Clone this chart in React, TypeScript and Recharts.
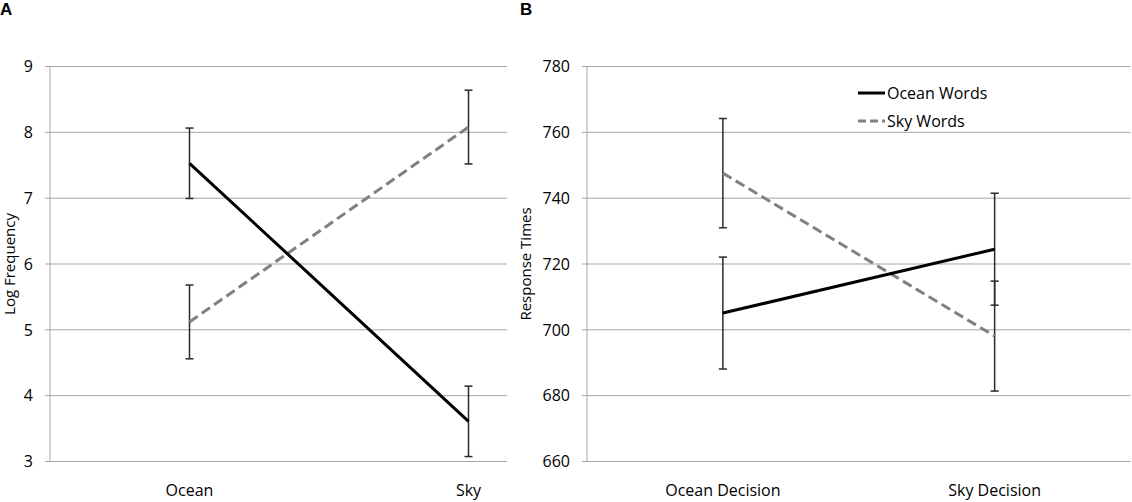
import React from 'react';
import { LineChart, Line, XAxis, YAxis, CartesianGrid, ErrorBar, Legend } from 'recharts';

// ---------- Panel A: Log Frequency ----------
const FREQ_CATEGORIES = ['Ocean', 'Sky'];
const FREQ_OCEAN_WORDS = [7.53, 3.61];
const FREQ_OCEAN_WORDS_ERR = [0.535, 0.535];
const FREQ_SKY_WORDS = [5.12, 8.08];
const FREQ_SKY_WORDS_ERR = [0.56, 0.56];
const FREQ_TICKS = [3, 4, 5, 6, 7, 8, 9];

// ---------- Panel B: Response Times ----------
const RT_CATEGORIES = ['Ocean Decision', 'Sky Decision'];
const RT_OCEAN_WORDS = [705.1, 724.5];
const RT_OCEAN_WORDS_ERR = [17.0, 17.0];
const RT_SKY_WORDS = [747.6, 698.1];
const RT_SKY_WORDS_ERR = [16.6, 16.7];
const RT_TICKS = [660, 680, 700, 720, 740, 760, 780];

const SERIES_NAMES = ['Ocean Words', 'Sky Words'];
const FRAME_TICKS = [0, 1, 2];

const GRID = '#a5a5a5';
const FONT = '"Open Sans", sans-serif';
const SERIES_STYLE: Record<string, { color: string; dash?: string; legendDash?: string }> = {
  ocean: { color: '#000000' },
  sky: { color: '#808080', dash: '10 5', legendDash: '8 4' },
};

const buildRows = (cats: string[], ocean: number[], oceanErr: number[], sky: number[], skyErr: number[]) =>
  cats.map((c, i) => ({ category: c, ocean: ocean[i], oceanErr: oceanErr[i], sky: sky[i], skyErr: skyErr[i] }));

const freqRows = buildRows(FREQ_CATEGORIES, FREQ_OCEAN_WORDS, FREQ_OCEAN_WORDS_ERR, FREQ_SKY_WORDS, FREQ_SKY_WORDS_ERR);
const rtRows = buildRows(RT_CATEGORIES, RT_OCEAN_WORDS, RT_OCEAN_WORDS_ERR, RT_SKY_WORDS, RT_SKY_WORDS_ERR);

const AxisTitle = (props: any) => {
  const { viewBox, text, inset } = props;
  const x = (viewBox?.x ?? 0) + inset;
  const y = (viewBox?.y ?? 0) + (viewBox?.height ?? 0) / 2;
  return (
    <text
      x={x}
      y={y}
      transform={`rotate(-90 ${x} ${y})`}
      textAnchor="middle"
      dominantBaseline="central"
      fontSize={15}
      fill="#000"
      fontFamily={FONT}
    >
      {text}
    </text>
  );
};

const LegendContent = (props: any) => {
  const items = [...(props.payload || [])].sort(
    (a: any, b: any) => SERIES_NAMES.indexOf(a.value) - SERIES_NAMES.indexOf(b.value)
  );
  return (
    <div style={{ fontFamily: FONT, fontSize: 16, color: '#000' }}>
      {items.map((e: any) => {
        const st = SERIES_STYLE[e.dataKey] || { color: e.color };
        return (
          <div key={e.value} style={{ display: 'flex', alignItems: 'center', height: 28, whiteSpace: 'nowrap' }}>
            <svg width={27} height={8} style={{ display: 'block' }}>
              <line x1={0} x2={27} y1={4} y2={4} stroke={st.color} strokeWidth={3} strokeDasharray={st.legendDash} />
            </svg>
            <span style={{ marginLeft: 2, lineHeight: '28px' }}>{e.value}</span>
          </div>
        );
      })}
    </div>
  );
};

const Panel = (props: {
  rows: any[];
  width: number;
  yWidth: number;
  domain: [number, number];
  ticks: number[];
  title: string;
  titleInset: number;
  marginRight: number;
  legend?: boolean;
}) => {
  const { rows, width, yWidth, domain, ticks, title, titleInset, marginRight, legend } = props;
  return (
    <LineChart
      width={width}
      height={502}
      data={rows}
      margin={{ top: 66.5, right: marginRight, bottom: 3.5, left: 0 }}
    >
      <CartesianGrid vertical={false} stroke={GRID} strokeWidth={1} />
      <XAxis
        type="number"
        domain={[0, 2]}
        ticks={FRAME_TICKS}
        allowDataOverflow
        tick={false}
        tickSize={6}
        height={1}
        axisLine={{ stroke: GRID }}
        tickLine={{ stroke: GRID }}
      />
      <XAxis
        xAxisId="cat"
        dataKey="category"
        scale="band"
        interval={0}
        tickLine={false}
        axisLine={false}
        tickSize={0}
        tickMargin={22}
        height={36}
        tick={{ fill: '#000', fontSize: 16, fontFamily: FONT }}
      />
      <YAxis
        type="number"
        domain={domain}
        ticks={ticks}
        interval={0}
        width={yWidth}
        tickSize={5}
        tickMargin={12}
        axisLine={{ stroke: GRID }}
        tickLine={{ stroke: GRID }}
        tick={{ fill: '#000', fontSize: 16, fontFamily: FONT }}
        label={<AxisTitle text={title} inset={titleInset} />}
      />
      {legend && (
        <Legend
          layout="vertical"
          align="center"
          verticalAlign="middle"
          wrapperStyle={{ left: 348, top: 79, width: 'auto', height: 'auto' }}
          content={<LegendContent />}
        />
      )}
      <Line
        xAxisId="cat"
        dataKey="sky"
        name="Sky Words"
        stroke={SERIES_STYLE.sky.color}
        strokeWidth={3}
        strokeDasharray={SERIES_STYLE.sky.dash}
        dot={false}
        activeDot={false}
        isAnimationActive={false}
      >
        <ErrorBar dataKey="skyErr" width={4} strokeWidth={1.5} stroke="#2a2a2a" isAnimationActive={false} />
      </Line>
      <Line
        xAxisId="cat"
        dataKey="ocean"
        name="Ocean Words"
        stroke={SERIES_STYLE.ocean.color}
        strokeWidth={3}
        dot={false}
        activeDot={false}
        isAnimationActive={false}
      >
        <ErrorBar dataKey="oceanErr" width={4} strokeWidth={1.5} stroke="#2a2a2a" isAnimationActive={false} />
      </Line>
    </LineChart>
  );
};

export default function App() {
  return (
    <div
      style={{
        position: 'absolute',
        left: 0,
        top: 0,
        width: 1132,
        height: 502,
        background: '#fff',
        overflow: 'hidden',
        fontFamily: FONT,
      }}
    >
      <div style={{ position: 'absolute', left: 0, top: 0, width: 507, height: 502, overflow: 'hidden' }}>
        <Panel
          rows={freqRows}
          width={620}
          yWidth={50}
          domain={[3, 9]}
          ticks={FREQ_TICKS}
          title="Log Frequency"
          titleInset={9}
          marginRight={12}
        />
      </div>
      <div style={{ position: 'absolute', left: 510, top: 0, width: 622, height: 502 }}>
        <Panel
          rows={rtRows}
          width={622}
          yWidth={77}
          domain={[660, 780]}
          ticks={RT_TICKS}
          title="Response Times"
          titleInset={15}
          marginRight={1.5}
          legend
        />
      </div>
      <div
        style={{
          position: 'absolute',
          left: 0,
          top: 1,
          fontFamily: '"Liberation Sans", Arial, sans-serif',
          fontWeight: 'bold',
          fontSize: 17,
          lineHeight: '17px',
        }}
      >
        A
      </div>
      <div
        style={{
          position: 'absolute',
          left: 520,
          top: 1,
          fontFamily: '"Liberation Sans", Arial, sans-serif',
          fontWeight: 'bold',
          fontSize: 17,
          lineHeight: '17px',
        }}
      >
        B
      </div>
    </div>
  );
}
